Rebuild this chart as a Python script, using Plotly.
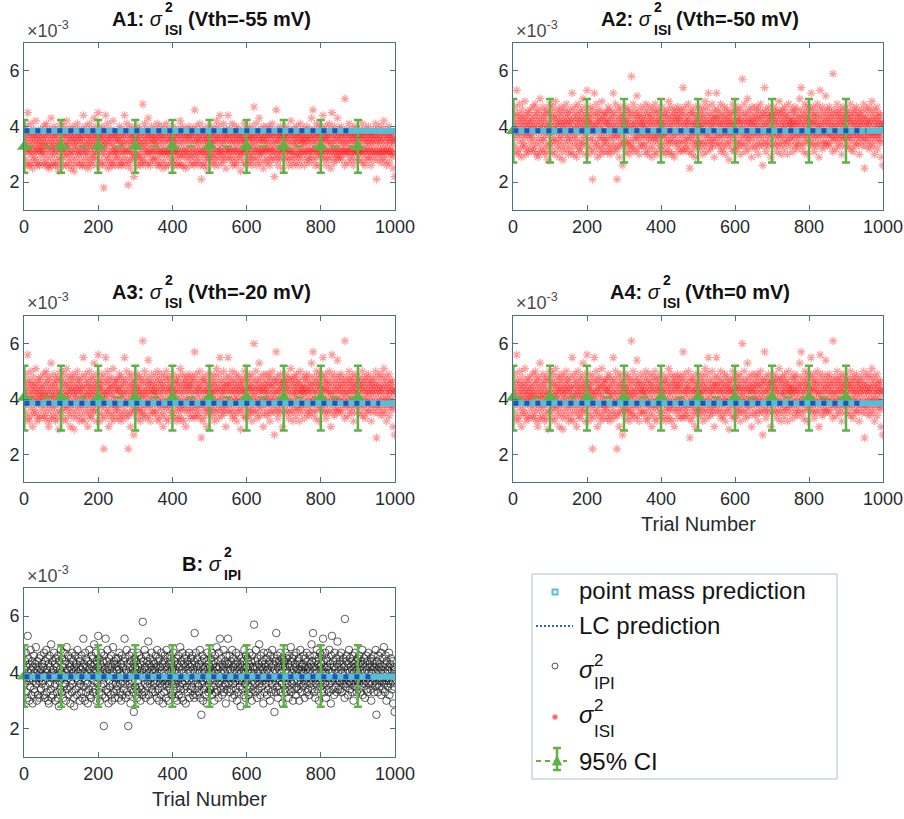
import plotly.graph_objects as go

FIG_W, FIG_H = 904, 819
FONT = "Liberation Sans, Arial, Helvetica, sans-serif"

# Trial-by-trial variance estimates, stored in units of 1e-4 (divided by 10 -> x10^-3 axis units)
VAR_ISI_A1 = [
    35,31,37,33,40,28,36,32,26,45,34,38,31,26,37,32,30,41,35,27,33,37,25,36,31,39,29,34,28,37,32,42,31,35,26,37,33,27,36,31,38,26,34,32,39,29,35,31,37,33,
    31,36,27,40,33,26,37,30,34,41,28,35,32,38,26,37,25,33,39,31,36,29,43,26,34,32,37,27,35,33,40,30,37,31,26,38,32,36,28,34,26,39,33,24,37,31,35,29,41,32,
    34,28,38,32,36,26,40,30,33,37,31,37,26,34,42,29,35,32,39,27,33,37,30,36,25,38,31,35,28,40,31,34,37,26,24,36,33,39,29,35,32,37,27,41,31,34,38,30,36,26,
    37,31,35,28,39,33,26,36,32,44,30,37,34,26,40,31,28,38,33,36,31,25,37,34,29,41,35,27,37,32,26,39,33,36,30,38,28,34,43,31,37,29,35,40,26,33,37,31,36,45,
    32,38,28,35,26,37,33,40,30,36,27,34,37,31,18,39,32,35,26,44,33,29,37,34,41,28,36,25,38,31,35,30,37,27,39,33,26,36,31,42,34,28,37,32,26,37,31,38,29,35,
    30,36,32,38,26,35,40,28,34,31,37,26,39,33,27,36,31,37,29,34,44,31,38,26,35,32,41,28,37,31,19,34,27,39,31,36,25,37,33,29,40,31,35,28,37,22,34,38,30,36,
    33,37,29,35,26,40,31,36,28,34,39,30,37,26,33,38,29,35,27,48,32,37,34,28,41,31,36,26,39,33,35,30,37,31,43,27,37,34,31,38,26,36,32,40,29,35,28,37,31,34,
    37,31,35,28,39,33,36,26,41,31,29,37,34,26,38,31,36,32,27,40,35,30,37,31,25,37,34,28,39,31,36,32,26,41,30,35,38,31,26,37,31,34,39,29,36,32,37,27,35,31,
    28,36,40,31,34,26,37,31,35,29,38,32,26,37,31,39,27,34,36,30,42,29,37,32,26,35,40,31,26,37,34,29,38,31,36,25,39,32,30,37,35,28,37,31,40,26,34,36,29,38,
    32,37,30,39,27,35,31,37,26,46,34,29,40,32,36,27,38,31,35,30,37,28,34,41,26,36,32,21,37,31,39,31,26,35,29,38,34,27,36,32,30,37,25,40,31,35,28,37,34,29,
    36,31,38,29,34,40,27,35,32,37,30,37,26,34,39,31,28,36,42,29,35,32,37,26,40,31,36,44,31,34,29,38,32,27,37,35,30,41,28,36,34,31,37,25,39,32,29,37,35,44,
    31,37,32,39,28,35,31,37,29,34,41,26,36,31,38,32,27,35,37,31,29,40,34,26,37,32,36,28,39,31,35,30,37,24,34,38,31,29,36,32,37,27,35,41,31,34,26,39,32,36,
    31,38,29,35,27,37,32,40,30,36,28,37,34,26,39,31,36,29,33,47,35,31,37,28,41,32,36,26,38,31,34,29,37,43,31,35,27,39,32,36,30,37,31,35,25,40,34,28,37,32,
    36,31,38,32,27,35,40,29,34,37,31,37,26,39,32,28,36,31,41,34,29,37,32,38,22,35,31,37,28,46,34,30,39,26,36,32,37,29,35,31,40,28,37,34,31,38,25,36,32,37,
    32,37,29,36,40,31,28,35,38,31,34,37,26,39,32,29,36,31,42,28,37,34,31,38,26,35,31,39,29,37,33,36,27,40,34,30,37,31,35,29,38,26,37,32,41,31,35,28,36,34,
    30,37,34,39,31,26,36,38,31,35,32,40,28,37,34,29,36,31,27,39,35,31,37,32,43,29,37,34,46,31,36,28,39,32,26,35,37,31,41,34,29,37,31,38,26,36,32,40,30,35,
    37,31,39,29,35,44,32,37,28,36,31,40,34,26,38,31,36,29,37,32,35,28,41,31,37,34,25,39,31,45,34,29,37,32,36,27,40,31,35,30,38,32,28,37,43,34,29,36,31,39,
    31,37,29,35,40,32,28,37,34,31,38,31,36,26,50,34,30,37,32,39,31,35,27,37,31,41,34,29,38,32,36,31,37,28,35,39,31,26,37,34,30,40,32,36,31,37,28,35,31,38,
    34,37,31,39,32,28,36,31,37,30,35,41,27,37,32,31,38,34,26,36,31,39,29,35,37,32,28,40,34,31,37,31,36,29,38,26,34,37,31,35,32,39,28,36,31,37,30,41,34,21,
    37,31,35,28,39,32,36,30,37,31,34,40,27,35,31,38,29,36,32,42,31,37,28,34,39,31,26,37,32,35,30,36,31,40,27,34,37,31,38,32,35,29,37,31,25,36,30,34,22,35,
]

VAR_ISI_A2 = [
    41,36,44,39,47,33,42,38,31,53,40,45,37,30,43,38,35,48,41,32,39,44,29,42,37,46,34,40,33,43,38,49,36,41,30,44,39,32,42,37,45,31,40,38,46,34,41,36,43,39,
    37,42,32,47,39,31,44,35,40,48,33,41,38,45,30,43,29,39,46,36,42,34,50,31,40,38,44,32,41,39,47,35,43,36,30,45,38,42,33,40,31,46,39,28,44,37,41,34,48,38,
    40,33,45,38,42,31,47,35,39,43,36,44,30,40,49,34,41,38,46,32,39,43,35,42,29,45,37,41,33,47,36,40,44,31,28,42,39,46,34,41,38,43,32,48,37,40,45,35,42,30,
    44,36,41,33,46,39,31,42,38,52,35,43,40,30,47,37,33,45,39,42,36,29,44,40,34,48,41,32,43,38,31,46,39,42,35,45,33,40,50,37,43,34,41,47,30,39,44,36,42,53,
    38,45,33,41,30,43,39,47,35,42,32,40,44,36,21,46,38,41,31,52,39,34,44,40,48,33,42,29,45,37,41,35,43,32,46,39,30,42,36,49,40,33,44,38,31,43,36,45,34,41,
    35,42,38,45,31,41,47,33,40,36,43,30,46,39,32,42,37,44,34,40,52,36,45,31,41,38,48,33,43,37,21,40,32,46,36,42,29,44,39,34,47,37,41,33,43,26,40,45,35,42,
    39,44,34,41,31,47,37,42,33,40,46,35,43,30,39,45,34,41,32,58,38,44,40,33,48,36,42,31,46,39,41,35,44,37,51,32,43,40,36,45,30,42,38,47,34,41,33,44,37,40,
    43,36,41,33,46,39,42,31,48,37,34,44,40,30,45,36,42,38,32,47,41,35,43,37,29,44,40,33,46,36,42,38,31,48,35,41,45,37,30,43,36,40,46,34,42,38,44,32,41,37,
    33,42,47,37,40,31,44,36,41,34,45,38,30,43,37,46,32,40,42,35,49,34,44,38,31,41,47,36,30,43,40,34,45,37,42,29,46,38,35,44,41,33,43,37,47,31,40,42,34,45,
    38,43,35,46,32,41,37,44,31,54,40,34,47,38,42,32,45,36,41,35,43,33,40,48,31,42,38,25,44,36,46,37,30,41,34,45,40,32,42,38,35,44,29,47,37,41,33,43,40,34,
    42,37,45,34,40,47,32,41,38,43,35,44,30,40,46,37,33,42,49,34,41,38,44,31,47,36,42,52,37,40,34,45,38,32,43,41,35,48,33,42,40,36,44,29,46,38,34,43,41,52,
    36,43,38,46,33,41,37,44,34,40,48,31,42,36,45,38,32,41,43,37,34,47,40,30,44,38,42,33,46,37,41,35,43,28,40,45,37,34,42,38,44,32,41,48,36,40,31,46,38,42,
    37,45,34,41,32,43,38,47,35,42,33,44,40,30,46,37,42,34,39,57,41,36,44,33,48,38,42,31,45,37,40,34,43,50,36,41,32,46,38,42,35,44,37,41,29,47,40,33,43,38,
    42,36,45,38,32,41,47,34,40,43,37,44,30,46,38,33,42,36,48,40,34,43,38,45,26,41,37,44,33,54,40,35,46,31,42,38,44,34,41,37,47,33,43,40,36,45,29,42,38,44,
    38,44,34,42,47,37,33,41,45,36,40,43,31,46,38,34,42,37,49,33,44,40,36,45,30,41,37,46,34,43,39,42,32,47,40,35,44,37,41,34,45,30,43,38,48,36,41,33,42,40,
    35,43,40,46,37,31,42,45,36,41,38,47,33,44,40,34,42,37,32,46,41,36,43,38,50,34,44,40,54,37,42,33,46,38,31,41,44,36,48,40,34,43,37,45,30,42,38,47,35,41,
    43,37,46,34,41,52,38,44,33,42,36,47,40,31,45,37,42,34,44,38,41,33,48,36,43,40,29,46,37,53,40,34,44,38,42,32,47,37,41,35,45,38,33,43,51,40,34,42,37,46,
    37,44,34,41,47,38,33,43,40,36,45,37,42,31,59,40,35,44,38,46,36,41,32,43,37,48,40,34,45,38,42,36,44,33,41,46,37,30,43,40,35,47,38,42,36,44,33,41,37,45,
    40,43,36,46,38,33,42,37,44,35,41,48,32,43,38,36,45,40,31,42,37,46,34,41,44,38,33,47,40,36,43,37,42,34,45,30,40,44,36,41,38,46,33,42,37,43,35,48,40,25,
    44,36,41,33,46,38,42,35,43,37,40,47,32,41,37,45,34,42,38,49,36,43,33,40,46,37,30,44,38,41,35,42,37,47,32,40,43,36,45,38,41,34,44,37,29,42,35,40,26,41,
]

VAR_ISI_A3 = [
    43,38,46,41,49,35,44,40,33,56,42,47,39,32,45,40,37,50,43,34,41,46,30,44,39,48,36,42,35,45,40,51,38,43,32,46,41,34,44,39,47,33,42,40,48,36,43,38,45,41,
    39,44,34,49,41,33,46,37,42,50,35,43,40,47,32,45,30,41,48,38,44,36,53,33,42,40,46,34,43,41,49,37,45,38,32,47,40,44,35,42,33,48,41,29,46,39,43,36,50,40,
    42,35,47,40,44,33,49,37,41,45,38,46,32,42,51,36,43,40,48,34,41,45,37,44,30,47,39,43,35,49,38,42,46,33,29,44,41,48,36,43,40,45,34,50,39,42,47,37,44,32,
    46,38,43,35,48,41,33,44,40,55,37,45,42,32,49,39,35,47,41,44,38,30,46,42,36,50,43,34,45,40,33,48,41,44,37,47,35,42,53,39,45,36,43,49,32,41,46,38,44,56,
    40,47,35,43,32,45,41,49,37,44,34,42,46,38,22,48,40,43,33,55,41,36,46,42,50,35,44,30,47,39,43,37,45,34,48,41,32,44,38,51,42,35,46,40,33,45,38,47,36,43,
    37,44,40,47,33,43,49,35,42,38,45,32,48,41,34,44,39,46,36,42,55,38,47,33,43,40,50,35,45,39,22,42,34,48,38,44,30,46,41,36,49,39,43,35,45,27,42,47,37,44,
    41,46,36,43,33,49,39,44,35,42,48,37,45,32,41,47,36,43,34,61,40,46,42,35,50,38,44,33,48,41,43,37,46,39,54,34,45,42,38,47,32,44,40,49,36,43,35,46,39,42,
    45,38,43,35,48,41,44,33,50,39,36,46,42,32,47,38,44,40,34,49,43,37,45,39,30,46,42,35,48,38,44,40,33,50,37,43,47,39,32,45,38,42,48,36,44,40,46,34,43,39,
    35,44,49,39,42,33,46,38,43,36,47,40,32,45,39,48,34,42,44,37,51,36,46,40,33,43,49,38,32,45,42,36,47,39,44,30,48,40,37,46,43,35,45,39,49,33,42,44,36,47,
    40,45,37,48,34,43,39,46,33,57,42,36,49,40,44,34,47,38,43,37,45,35,42,50,33,44,40,26,46,38,48,39,32,43,36,47,42,34,44,40,37,46,30,49,39,43,35,45,42,36,
    44,39,47,36,42,49,34,43,40,45,37,46,32,42,48,39,35,44,51,36,43,40,46,33,49,38,44,55,39,42,36,47,40,34,45,43,37,50,35,44,42,38,46,30,48,40,36,45,43,55,
    38,45,40,48,35,43,39,46,36,42,50,33,44,38,47,40,34,43,45,39,36,49,42,32,46,40,44,35,48,39,43,37,45,29,42,47,39,36,44,40,46,34,43,50,38,42,33,48,40,44,
    39,47,36,43,34,45,40,49,37,44,35,46,42,32,48,39,44,36,41,60,43,38,46,35,50,40,44,33,47,39,42,36,45,53,38,43,34,48,40,44,37,46,39,43,30,49,42,35,45,40,
    44,38,47,40,34,43,49,36,42,45,39,46,32,48,40,35,44,38,50,42,36,45,40,47,27,43,39,46,35,57,42,37,48,33,44,40,46,36,43,39,49,35,45,42,38,47,30,44,40,46,
    40,46,36,44,49,39,35,43,47,38,42,45,33,48,40,36,44,39,51,35,46,42,38,47,32,43,39,48,36,45,41,44,34,49,42,37,46,39,43,36,47,32,45,40,50,38,43,35,44,42,
    37,45,42,48,39,33,44,47,38,43,40,49,35,46,42,36,44,39,34,48,43,38,45,40,53,36,46,42,57,39,44,35,48,40,33,43,46,38,50,42,36,45,39,47,32,44,40,49,37,43,
    45,39,48,36,43,55,40,46,35,44,38,49,42,33,47,39,44,36,46,40,43,35,50,38,45,42,30,48,39,56,42,36,46,40,44,34,49,39,43,37,47,40,35,45,54,42,36,44,39,48,
    39,46,36,43,49,40,35,45,42,38,47,39,44,33,61,42,37,46,40,48,38,43,34,45,39,50,42,36,47,40,44,38,46,35,43,48,39,32,45,42,37,49,40,44,38,46,35,43,39,47,
    42,45,38,48,40,35,44,39,46,37,43,50,34,45,40,38,47,42,33,44,39,48,36,43,46,40,35,49,42,38,45,39,44,36,47,32,42,46,38,43,40,48,35,44,39,45,37,50,42,26,
    46,38,43,35,48,40,44,37,45,39,42,49,34,43,39,47,36,44,40,51,38,45,35,42,48,39,32,46,40,43,37,44,39,49,34,42,45,38,47,40,43,36,46,39,30,44,37,42,27,43,
]

# Vth = 0 mV gives the same per-trial ISI variances as Vth = -20 mV,
# and the IPI variances coincide with the Vth = -50 mV ISI variances.
VAR_ISI_A4 = VAR_ISI_A3
VAR_IPI_B = VAR_ISI_A2

# Predictions and confidence intervals (x10^-3)
POINT_MASS_PRED = [3.85, 3.85, 3.85, 3.85, 3.85]
LC_PRED = [3.85, 3.85, 3.85, 3.85, 3.85]
LC_LAST_TRIAL = [890, 955, 960, 950, 940]
CI_TRIALS = [1, 100, 200, 300, 400, 500, 600, 700, 800, 900]
CI_MEAN = [3.28, 3.85, 4.05, 4.05, 3.87]
CI_LOW = [2.34, 2.71, 2.86, 2.86, 2.78]
CI_HIGH = [4.23, 4.99, 5.20, 5.20, 4.97]

PANEL_LABELS = ["A1", "A2", "A3", "A4", "B"]
PANEL_SUB = ["ISI", "ISI", "ISI", "ISI", "IPI"]
PANEL_VTH = ["(Vth=-55 mV)", "(Vth=-50 mV)", "(Vth=-20 mV)", "(Vth=0 mV)", ""]
X_TICKS = [0, 200, 400, 600, 800, 1000]
Y_TICKS = [2, 4, 6]
LEGEND_LABELS = ["point mass prediction", "LC prediction", "IPI", "ISI", "95% CI"]

RED = "rgba(255, 25, 25, 0.42)"
BLACK_O = "rgba(30, 30, 30, 0.8)"
GREEN = "#5fb346"
CYAN = "#55bfd9"
BLUE = "#1c57b8"
FRAME = "#4a7280"
TEXT = "#262b2e"

# axes boxes in pixels: left, right, top, bottom
BOXES = [(24, 395, 43, 210), (513, 883, 43, 210), (24, 395, 316, 482),
         (513, 883, 316, 482), (24, 395, 588, 757)]
SHOW_XTITLE = [False, False, False, True, True]


def fx(p):
    return p / FIG_W


def fy(p):
    return 1 - p / FIG_H


fig = go.Figure()
series = [VAR_ISI_A1, VAR_ISI_A2, VAR_ISI_A3, VAR_ISI_A4, VAR_IPI_B]

for i, vals in enumerate(series):
    sfx = "" if i == 0 else str(i + 1)
    xa, ya = "x" + sfx, "y" + sfx
    trials = list(range(1, len(vals) + 1))
    yvals = [v / 10 for v in vals]
    if i < 4:
        mk = dict(symbol="asterisk-open", size=7, color=RED, line=dict(width=1.2, color=RED))
    else:
        mk = dict(symbol="circle-open", size=7.5, color=BLACK_O, line=dict(width=0.9, color=BLACK_O))
    fig.add_trace(go.Scatter(x=trials, y=yvals, mode="markers", marker=mk,
                             xaxis=xa, yaxis=ya, showlegend=False, hoverinfo="skip"))

    n = len(CI_TRIALS)
    fig.add_trace(go.Scatter(
        x=CI_TRIALS, y=[CI_MEAN[i]] * n, mode="lines+markers",
        line=dict(color=GREEN, width=2, dash="dash"),
        marker=dict(symbol="triangle-up", size=13, color=GREEN),
        error_y=dict(type="data", symmetric=False,
                     array=[CI_HIGH[i] - CI_MEAN[i]] * n,
                     arrayminus=[CI_MEAN[i] - CI_LOW[i]] * n,
                     color=GREEN, thickness=2.5, width=4),
        cliponaxis=False, xaxis=xa, yaxis=ya, showlegend=False, hoverinfo="skip"))

    fig.add_trace(go.Scatter(x=trials, y=[POINT_MASS_PRED[i]] * len(trials), mode="lines",
                             line=dict(color=CYAN, width=6), cliponaxis=False,
                             xaxis=xa, yaxis=ya, showlegend=False, hoverinfo="skip"))

    lc_trials = trials[:LC_LAST_TRIAL[i]]
    fig.add_trace(go.Scatter(x=lc_trials, y=[LC_PRED[i]] * len(lc_trials), mode="lines",
                             line=dict(color=BLUE, width=5, dash="5px,6px"),
                             xaxis=xa, yaxis=ya, showlegend=False, hoverinfo="skip"))

axis_common = dict(showline=True, linecolor=FRAME, linewidth=1, mirror="ticks",
                   ticks="inside", ticklen=5, tickwidth=1, tickcolor=FRAME,
                   showgrid=False, zeroline=False, automargin=False,
                   tickfont=dict(family=FONT, size=18, color=TEXT))

annotations = []
shapes = []


def text_at(x_px, baseline_px, text, size, color=TEXT, anchor="left"):
    annotations.append(dict(
        xref="paper", yref="paper", x=fx(x_px), y=fy(baseline_px - 0.3465 * size),
        xanchor=anchor, yanchor="middle", showarrow=False, text=text,
        font=dict(family=FONT, size=size, color=color)))


BOLD_EM = {"A": .722, "B": .722, "0": .556, "1": .556, "2": .556, "3": .556, "4": .556,
           "5": .556, ":": .333, " ": .278, "I": .278, "S": .667, "P": .667, "(": .333,
           ")": .333, "V": .667, "t": .333, "h": .611, "=": .584, "-": .333, "m": .889}


def bold_w(s, size):
    return sum(BOLD_EM.get(c, .6) for c in s) * size


TITLE_FS, SMALL_FS, SIGMA_EM = 20, 14, 0.6

for i, (x0, x1, y0, y1) in enumerate(BOXES):
    sfx = "" if i == 0 else str(i + 1)
    fig.layout["xaxis" + sfx] = dict(axis_common, domain=[fx(x0), fx(x1)], range=[0, 1000],
                                     anchor="y" + sfx, tickvals=X_TICKS)
    fig.layout["yaxis" + sfx] = dict(axis_common, domain=[fy(y1), fy(y0)], range=[1, 7],
                                     anchor="x" + sfx, tickvals=Y_TICKS)

    # title: label, sigma with stacked exponent / subscript, threshold
    prefix = PANEL_LABELS[i] + ": "
    w_pre = bold_w(prefix, TITLE_FS)
    w_sig = SIGMA_EM * TITLE_FS
    w_stack = bold_w(PANEL_SUB[i], SMALL_FS)
    w_suf = bold_w(" " + PANEL_VTH[i], TITLE_FS) if PANEL_VTH[i] else 0
    total = w_pre + w_sig + 3 + w_stack + w_suf
    start = (x0 + x1) / 2 - total / 2
    base = y0 - 17
    text_at(start, base, "<b>" + prefix + "</b><i>σ</i>", TITLE_FS, color="#111")
    sx = start + w_pre + w_sig + 3
    text_at(sx, base - 14, "<b>2</b>", SMALL_FS, color="#111")
    text_at(sx, base + 9, "<b>" + PANEL_SUB[i] + "</b>", SMALL_FS, color="#111")
    if PANEL_VTH[i]:
        text_at(sx + w_stack + 0.278 * TITLE_FS, base, "<b>" + PANEL_VTH[i] + "</b>",
                TITLE_FS, color="#111")

    # exponent label
    annotations.append(dict(xref="paper", yref="paper", x=fx(x0 + 1), y=fy(y0 - 0.5),
                            xanchor="left", yanchor="bottom", showarrow=False,
                            text="×10<sup>-3</sup>",
                            font=dict(family=FONT, size=18, color="#4a4a4a")))
    if SHOW_XTITLE[i]:
        text_at((x0 + x1) / 2, y1 + 49, "Trial Number", 20, anchor="center")

# legend box
LG = (532, 837, 574, 779)
shapes.append(dict(type="rect", xref="paper", yref="paper", x0=fx(LG[0]), x1=fx(LG[1]),
                   y0=fy(LG[3]), y1=fy(LG[2]), line=dict(color="#b4bec2", width=1),
                   fillcolor="white", layer="below"))


def seg(xa_, ya_, xb_, yb_, color, width, dash=None):
    shapes.append(dict(type="line", xref="paper", yref="paper", x0=fx(xa_), y0=fy(ya_),
                       x1=fx(xb_), y1=fy(yb_), line=dict(color=color, width=width, dash=dash)))


LEG_FS, LEG_SMALL = 24, 17
TX = 577
GX = 555
LEG_TXT = "#141414"
# point mass prediction
shapes.append(dict(type="rect", xref="paper", yref="paper", x0=fx(GX - 2.5), x1=fx(GX + 2.5),
                   y0=fy(594.5), y1=fy(589.5), line=dict(color=CYAN, width=2)))
text_at(TX, 599, LEGEND_LABELS[0], LEG_FS, color=LEG_TXT)
# LC prediction
seg(536, 626, 573, 626, "#2a66c8", 2, "2px,2px")
text_at(TX, 634, LEGEND_LABELS[1], LEG_FS, color=LEG_TXT)
# sigma^2 IPI
shapes.append(dict(type="circle", xref="paper", yref="paper", x0=fx(GX - 3), x1=fx(GX + 3),
                   y0=fy(669), y1=fy(663), line=dict(color="#555", width=1)))
text_at(TX, 678, "<i>σ</i>", LEG_FS, color=LEG_TXT)
text_at(TX + 15, 666, "2", LEG_SMALL, color=LEG_TXT)
text_at(TX + 15, 689, LEGEND_LABELS[2], LEG_SMALL, color=LEG_TXT)
# sigma^2 ISI
for d in [(-3, 0, 3, 0), (0, -3, 0, 3), (-2.2, -2.2, 2.2, 2.2), (-2.2, 2.2, 2.2, -2.2)]:
    seg(GX + d[0], 717 + d[1], GX + d[2], 717 + d[3], "rgba(240,70,70,0.8)", 1.2)
text_at(TX, 723, "<i>σ</i>", LEG_FS, color=LEG_TXT)
text_at(TX + 15, 711, "2", LEG_SMALL, color=LEG_TXT)
text_at(TX + 15, 737, LEGEND_LABELS[3], LEG_SMALL, color=LEG_TXT)
# 95% CI
seg(536, 761, 567, 761, GREEN, 2, "5px,4px")
seg(557, 748, 557, 770, GREEN, 2.5)
seg(553, 748, 561, 748, GREEN, 2.5)
seg(553, 770, 561, 770, GREEN, 2.5)
shapes.append(dict(type="path", xref="paper", yref="paper",
                   path=f"M {fx(552.5)},{fy(765)} L {fx(561.5)},{fy(765)} L {fx(557)},{fy(756)} Z",
                   fillcolor=GREEN, line=dict(color=GREEN, width=1)))
text_at(TX, 770, LEGEND_LABELS[4], LEG_FS, color=LEG_TXT)

fig.update_layout(width=FIG_W, height=FIG_H, margin=dict(l=0, r=0, t=0, b=0),
                  paper_bgcolor="white", plot_bgcolor="white", showlegend=False,
                  hovermode=False, annotations=annotations, shapes=shapes,
                  font=dict(family=FONT, color=TEXT))

fig.write_html("out.html")
